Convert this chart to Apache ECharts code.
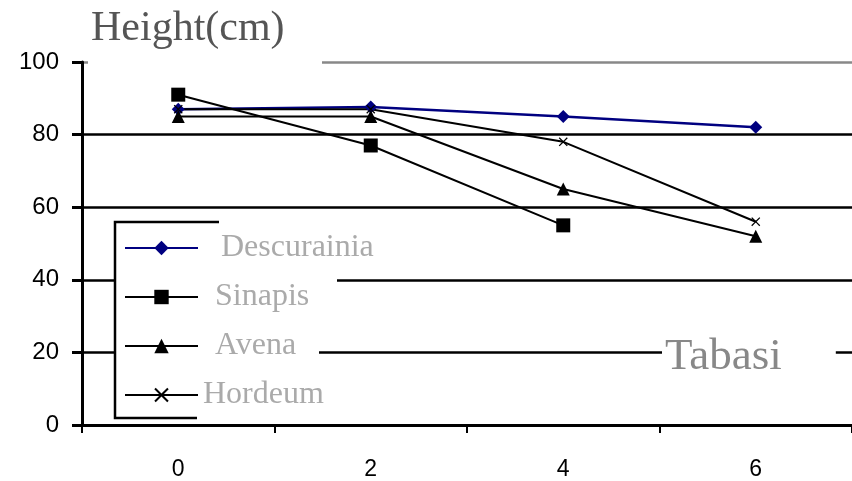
<!DOCTYPE html>
<html>
<head>
<meta charset="utf-8">
<script src="https://cdn.jsdelivr.net/npm/echarts@6/dist/echarts.min.js"></script>
<style>
  html, body { margin: 0; padding: 0; background: #fff; }
  #chart { width: 852px; height: 481px; }
</style>
</head>
<body>
<div id="chart"></div>
<script>
// weeks (x) and plant height in cm
const weeks = ['0', '2', '4', '6'];
const descurainia = [87, 87.6, 85, 82];
const sinapis = [91, 77, 55, null];
const avena = [85, 85, 65, 52];
const hordeum = [87, 87, 78, 56];
const seriesNames = ['Descurainia', 'Sinapis', 'Avena', 'Hordeum'];

const chart = echarts.init(document.getElementById('chart'));

const crossPath = 'path://M0,1L1,0L5,4L9,0L10,1L6,5L10,9L9,10L5,6L1,10L0,9L4,5Z';
const serif = '"Liberation Serif", "DejaVu Serif", serif';
const sans = '"Liberation Sans", Arial, sans-serif';

const option = {
  animation: false,
  backgroundColor: '#fff',
  title: [
    {
      text: 'Height(cm)',
      left: 91,
      top: 8,
      padding: 0,
      textStyle: { fontFamily: serif, fontSize: 42, fontWeight: 'normal', color: '#555' }
    },
    {
      text: 'Tabasi',
      left: 662,
      top: 333,
      padding: [2, 54, 2, 3],
      backgroundColor: '#fff',
      textStyle: { fontFamily: serif, fontSize: 45, fontWeight: 'normal', color: '#888' }
    }
  ],
  graphic: [
    // white patch under the title, hides part of the top grid line
    { type: 'rect', z: 3, shape: { x: 88, y: 55, width: 234, height: 14 }, style: { fill: '#fff' } },
    // legend background (ragged right edge like the original)
    { type: 'rect', z: 3, shape: { x: 116, y: 223, width: 221, height: 97 }, style: { fill: '#fff' } },
    { type: 'rect', z: 3, shape: { x: 116, y: 320, width: 203, height: 97 }, style: { fill: '#fff' } },
    // partial legend frame
    { type: 'polyline', z: 5, shape: { points: [[219, 222], [115, 222], [115, 418], [197, 418]] },
      style: { stroke: '#000', lineWidth: 2.5, fill: null } }
  ],
  legend: {
    orient: 'vertical',
    left: 124,
    top: 232,
    padding: 0,
    itemWidth: 73,
    itemHeight: 18,
    itemGap: 17,
    z: 6,
    data: seriesNames,
    formatter: name => '{p' + seriesNames.indexOf(name) + '|' + name + '}',
    textStyle: {
      fontFamily: serif,
      fontSize: 32,
      lineHeight: 20,
      color: '#aaa',
      rich: {
        p0: { padding: [0, 0, 0, 18], fontSize: 32, fontFamily: serif, color: '#aaa' },
        p1: { padding: [0, 0, 0, 12], fontSize: 32, fontFamily: serif, color: '#aaa' },
        p2: { padding: [0, 0, 0, 12], fontSize: 32, fontFamily: serif, color: '#aaa' },
        p3: { padding: [0, 0, 0, 0], fontSize: 32, fontFamily: serif, color: '#aaa' }
      }
    }
  },
  grid: { left: 82, right: -4, top: 62, bottom: 55 },
  xAxis: {
    type: 'category',
    data: weeks,
    boundaryGap: true,
    axisLine: { lineStyle: { color: '#000', width: 3 } },
    axisTick: { show: true, length: 8, lineStyle: { color: '#000', width: 2 } },
    axisLabel: { margin: 33, fontSize: 23, color: '#000', fontFamily: sans },
    splitLine: { show: false }
  },
  yAxis: {
    type: 'value',
    min: 0,
    max: 100,
    interval: 20,
    axisLine: { show: true, lineStyle: { color: '#000', width: 3 } },
    axisTick: { show: true, length: 10, lineStyle: { color: '#000', width: 3 } },
    axisLabel: { margin: 23, fontSize: 24, color: '#000', fontFamily: sans },
    splitLine: {
      show: true,
      lineStyle: { color: ['#000', '#000', '#000', '#000', '#000', '#888'], width: 2.5 }
    }
  },
  series: [
    {
      name: 'Descurainia', type: 'line', data: descurainia,
      symbol: 'diamond', symbolSize: 13,
      itemStyle: { color: '#000080' },
      lineStyle: { color: '#000080', width: 2.5 }
    },
    {
      name: 'Sinapis', type: 'line', data: sinapis,
      symbol: 'rect', symbolSize: 14,
      itemStyle: { color: '#000' },
      lineStyle: { color: '#000', width: 2 }
    },
    {
      name: 'Avena', type: 'line', data: avena,
      symbol: 'triangle', symbolSize: 13,
      itemStyle: { color: '#000' },
      lineStyle: { color: '#000', width: 2 }
    },
    {
      name: 'Hordeum', type: 'line', data: hordeum,
      symbol: crossPath, symbolSize: 9,
      itemStyle: { color: '#000' },
      lineStyle: { color: '#000', width: 2 }
    }
  ]
};

chart.setOption(option);
</script>
</body>
</html>
